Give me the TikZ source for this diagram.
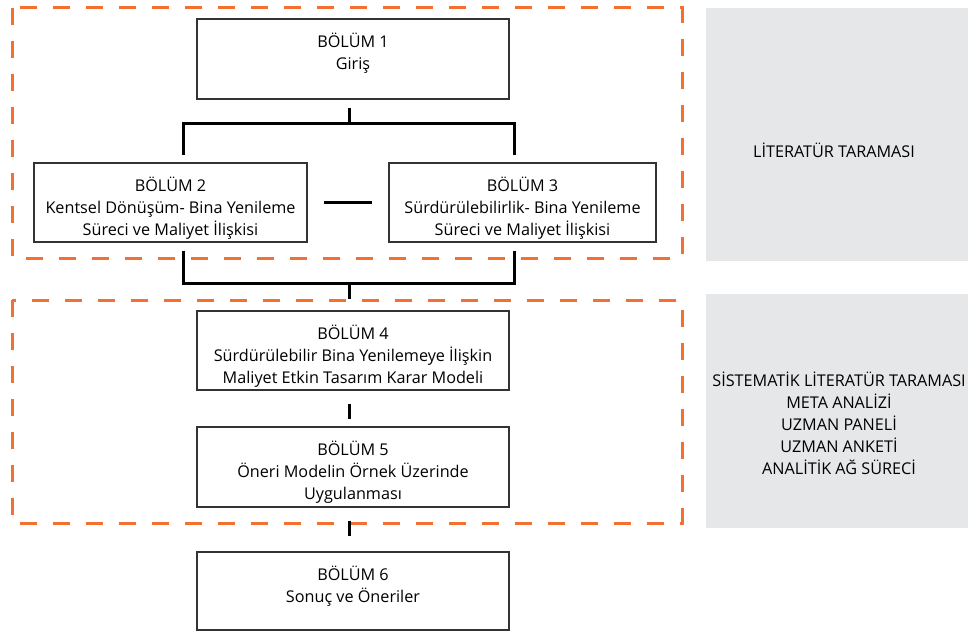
\documentclass[tikz,border=0pt]{standalone}
\usepackage{fontspec}
\setmainfont{Open Sans}
\definecolor{dashorange}{RGB}{243,112,48}
\definecolor{panelgrey}{RGB}{230,231,232}
\begin{document}
\begin{tikzpicture}[x=1pt,y=-1pt,
  box/.style={draw=black!80,line width=1.4pt,inner sep=0pt},
  boxtext/.style={anchor=north,yshift=-15pt,align=center,inner sep=0pt,font=\fontsize{16.2}{21.7}\selectfont},
  link/.style={line width=3pt},
  frame/.style={draw=dashorange,line width=3pt,dash pattern=on 17pt off 16pt},
  panel/.style={fill=panelgrey,inner sep=0pt},
  label/.style={align=center,font=\fontsize{16.2}{22}\selectfont}]
\useasboundingbox (0,0) rectangle (968,631);
\clip (0,0) rectangle (968,631);
\node[panel,minimum width=262pt,minimum height=253pt] (P1) at (837,134.5) {};
\node[panel,minimum width=262pt,minimum height=234pt] (P2) at (837,411) {};
\node[label] (L1) at (834,150) {LİTERATÜR TARAMASI};
\node[label] (L2) at (839,423) {SİSTEMATİK LİTERATÜR TARAMASI\\META ANALİZİ\\UZMAN PANELİ\\UZMAN ANKETİ\\ANALİTİK AĞ SÜRECİ};
\draw[frame] (12,8) rectangle (682,258);
\draw[frame] (12,300) rectangle (682,523);
\node[box,minimum width=312pt,minimum height=80pt] (B1) at (353,59) {};
\node[box,minimum width=273pt,minimum height=79pt] (B2) at (170.5,202.5) {};
\node[box,minimum width=267pt,minimum height=79pt] (B3) at (522.5,202.5) {};
\node[box,minimum width=312pt,minimum height=79pt] (B4) at (353,350.5) {};
\node[box,minimum width=312pt,minimum height=80pt] (B5) at (353,467) {};
\node[box,minimum width=312pt,minimum height=78pt] (B6) at (353,591) {};
\node[boxtext] (B1t) at (B1.north) {BÖLÜM 1\\Giriş};
\node[boxtext] (B2t) at (B2.north) {BÖLÜM 2\\Kentsel Dönüşüm- Bina Yenileme\\Süreci ve Maliyet İlişkisi};
\node[boxtext] (B3t) at (B3.north) {BÖLÜM 3\\Sürdürülebilirlik- Bina Yenileme\\Süreci ve Maliyet İlişkisi};
\node[boxtext] (B4t) at (B4.north) {BÖLÜM 4\\Sürdürülebilir Bina Yenilemeye İlişkin\\Maliyet Etkin Tasarım Karar Modeli};
\node[boxtext] (B5t) at (B5.north) {BÖLÜM 5\\Öneri Modelin Örnek Üzerinde\\Uygulanması};
\node[boxtext] (B6t) at (B6.north) {BÖLÜM 6\\Sonuç ve Öneriler};
\coordinate (T) at (349,124);
\coordinate (TL) at (183,124);
\coordinate (TR) at (514,124);
\coordinate (M) at (349,283);
\coordinate (ML) at (183,283);
\coordinate (MR) at (514,283);
\draw[link,shorten <=8pt] (B1.south -| T) -- (T);
\draw[link,shorten <=7pt,shorten >=7pt] (B2.north -| TL) -- (TL) -- (TR) -- (B3.north -| TR);
\draw[link,shorten <=16pt,shorten >=16pt] (B2.east) -- (B3.west);
\draw[link,shorten <=8pt,shorten >=8pt] (B2.south -| ML) -- (ML) -- (MR) -- (B3.south -| MR);
\draw[link,shorten >=11pt] (M) -- (B4.north -| M);
\draw[link,shorten <=13pt,shorten >=7pt] (B4.south -| M) -- (B5.north -| M);
\draw[link,shorten <=13pt,shorten >=15pt] (B5.south -| M) -- (B6.north -| M);
\end{tikzpicture}
\end{document}
